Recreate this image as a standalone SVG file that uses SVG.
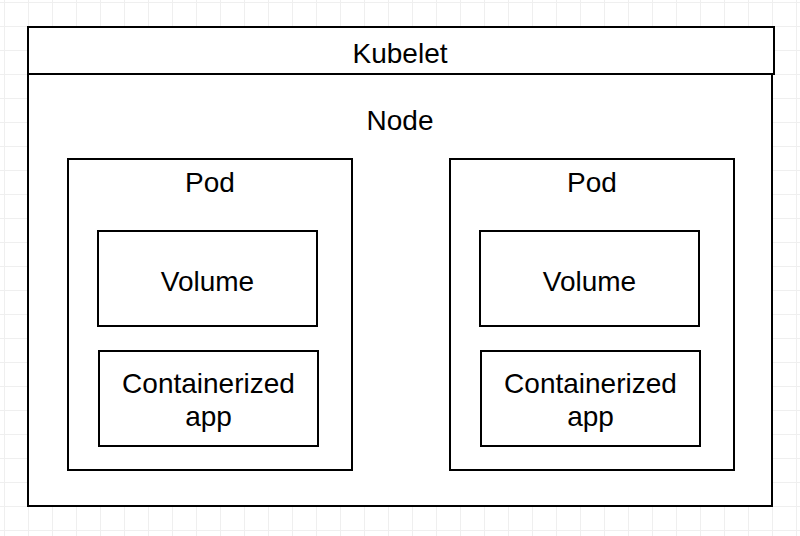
<svg xmlns="http://www.w3.org/2000/svg" width="800" height="536" viewBox="0 0 800 536">
<defs>
<pattern id="grid" x="4" y="2" width="24" height="24" patternUnits="userSpaceOnUse">
<path d="M0.5 0V24M0 0.5H24" fill="none" stroke="#efefef" stroke-width="1"/>
</pattern>
<style>
.box{fill:#ffffff;stroke:#000000;stroke-width:2}
.lbl{font-family:"Liberation Sans",Arial,Helvetica,sans-serif;font-size:28px;fill:#000000;text-anchor:middle}
</style>
</defs>
<rect width="800" height="536" fill="#ffffff"/>
<rect width="800" height="536" fill="url(#grid)"/>
<g id="node">
<rect class="box" x="28" y="74" width="744" height="432"/>
<text class="lbl" x="400" y="130">Node</text>
</g>
<g id="kubelet">
<rect class="box" x="28" y="27" width="746" height="47"/>
<text class="lbl" x="400" y="63">Kubelet</text>
</g>
<g id="pod1">
<rect class="box" x="68" y="159" width="284" height="311"/>
<text class="lbl" x="210" y="192">Pod</text>
</g>
<g id="volume1">
<rect class="box" x="98" y="231" width="219" height="95"/>
<text class="lbl" x="207.5" y="291">Volume</text>
</g>
<g id="app1">
<rect class="box" x="99" y="351" width="219" height="95"/>
<text class="lbl" x="208.5" y="393">Containerized</text>
<text class="lbl" x="208.5" y="426">app</text>
</g>
<g id="pod2">
<rect class="box" x="450" y="159" width="284" height="311"/>
<text class="lbl" x="592" y="192">Pod</text>
</g>
<g id="volume2">
<rect class="box" x="480" y="231" width="219" height="95"/>
<text class="lbl" x="589.5" y="291">Volume</text>
</g>
<g id="app2">
<rect class="box" x="481" y="351" width="219" height="95"/>
<text class="lbl" x="590.5" y="393">Containerized</text>
<text class="lbl" x="590.5" y="426">app</text>
</g>
<g id="connectors"></g>
</svg>
